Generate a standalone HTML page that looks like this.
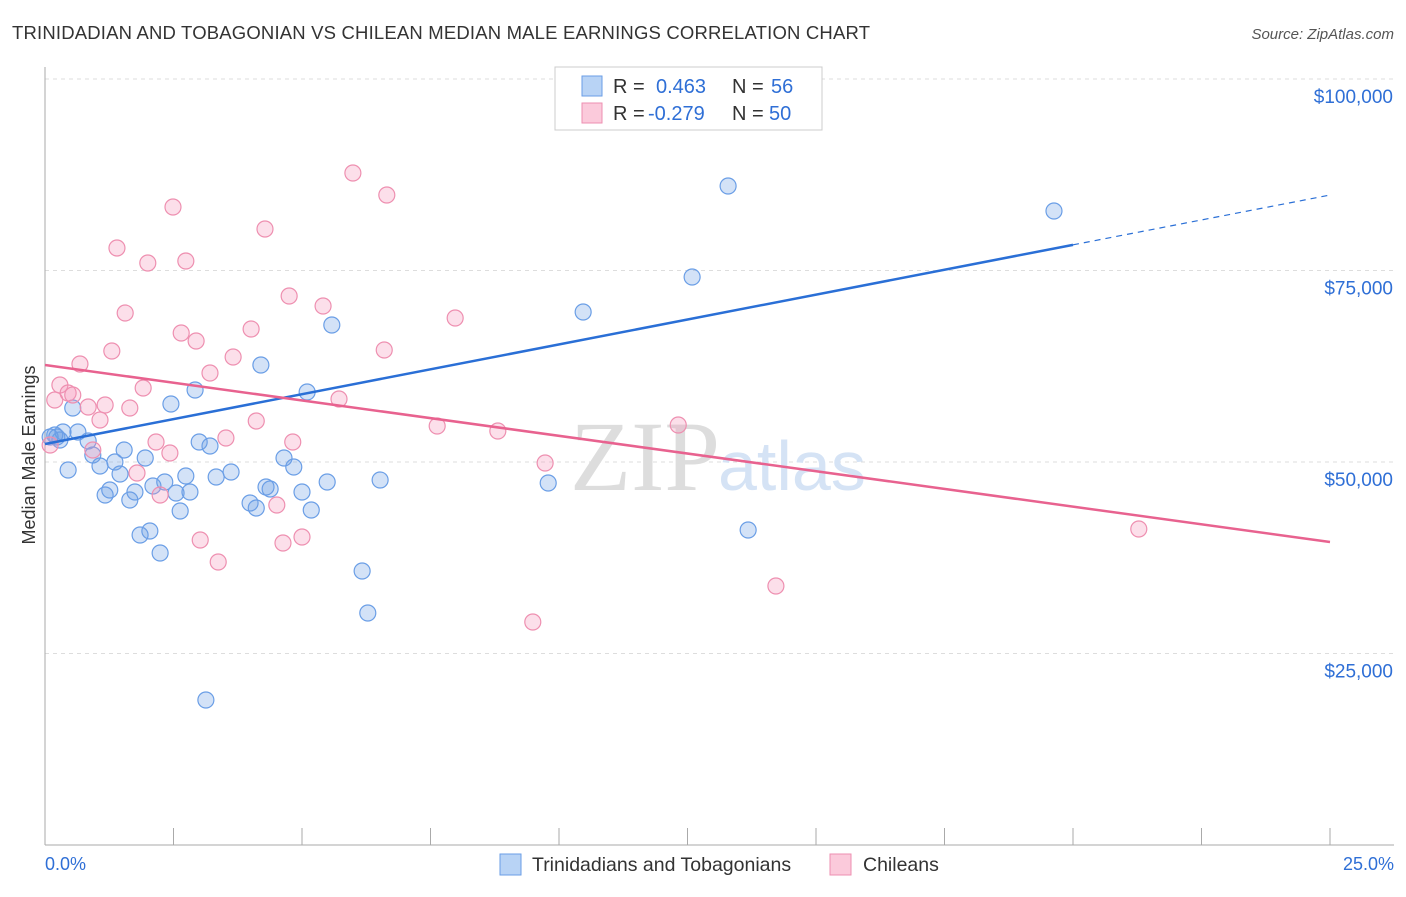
<!DOCTYPE html>
<html><head><meta charset="utf-8"><style>
body{margin:0;background:#fff;font-family:"Liberation Sans",sans-serif;}
svg text{font-family:"Liberation Sans",sans-serif;}
</style></head><body>
<svg id="c" width="1406" height="892" xmlns="http://www.w3.org/2000/svg">
<text x="12" y="39" font-size="18.5" fill="#333" textLength="858">TRINIDADIAN AND TOBAGONIAN VS CHILEAN MEDIAN MALE EARNINGS CORRELATION CHART</text>
<text x="1394" y="39" font-size="15" fill="#555" font-style="italic" text-anchor="end">Source: ZipAtlas.com</text>
<text x="35" y="455" font-size="18" fill="#333" text-anchor="middle" transform="rotate(-90 35 455)">Median Male Earnings</text>
<g id="grid"></g>
<text x="720" y="490" font-size="100" fill="#ddd" text-anchor="end" style="font-family:'Liberation Serif',serif">ZIP</text>
<text x="718" y="490" font-size="70" fill="#d5e3f5">atlas</text>
<g id="pts"></g>
<g id="lines"></g>
<g>
<rect x="555" y="67" width="267" height="63" fill="#fff" stroke="#ccc"/>
<rect x="582" y="76" width="20" height="20" fill="#b8d3f5" stroke="#6a9ee6"/>
<rect x="582" y="103" width="20" height="20" fill="#fbcadb" stroke="#ee8fb0"/>
<text x="613" y="93" font-size="20" fill="#333">R = <tspan fill="#2f6fd6" x="656">0.463</tspan><tspan fill="#333" x="732">N = </tspan><tspan fill="#2f6fd6" x="771">56</tspan></text>
<text x="613" y="120" font-size="20" fill="#333">R = <tspan fill="#2f6fd6" x="648">-0.279</tspan><tspan fill="#333" x="732">N = </tspan><tspan fill="#2f6fd6" x="769">50</tspan></text>
</g>
<g>
<rect x="500" y="854" width="21" height="21" fill="#b8d3f5" stroke="#6a9ee6"/>
<text x="532" y="871" font-size="19.5" fill="#333">Trinidadians and Tobagonians</text>
<rect x="830" y="854" width="21" height="21" fill="#fbcadb" stroke="#ee8fb0"/>
<text x="863" y="871" font-size="19.5" fill="#333">Chileans</text>
</g>
<text x="45" y="870" font-size="18" fill="#2f6fd6">0.0%</text>
<text x="1394" y="870" font-size="18" fill="#2f6fd6" text-anchor="end">25.0%</text>
</svg>
<script>
const yTicks=[25000,50000,75000,100000];
const yTickLabels=["$25,000","$50,000","$75,000","$100,000"];
const xTicks=[0,2.5,5,7.5,10,12.5,15,17.5,20,22.5,25];
const bluePx=[[50,437],[57,437],[55,435],[60,440],[63,432],[68,470],[73,408],[78,432],[88,441],[93,455],[100,466],[105,495],[110,490],[115,462],[120,474],[124,450],[130,500],[135,492],[140,535],[150,531],[145,458],[153,486],[160,553],[165,482],[171,404],[176,493],[180,511],[186,476],[190,492],[195,390],[199,442],[206,700],[210,446],[216,477],[231,472],[250,503],[256,508],[261,365],[266,487],[270,489],[284,458],[294,467],[302,492],[307,392],[311,510],[327,482],[332,325],[362,571],[368,613],[380,480],[548,483],[583,312],[692,277],[728,186],[748,530],[1054,211]];
const pinkPx=[[50,445],[55,400],[60,385],[68,393],[73,395],[80,364],[88,407],[93,450],[100,420],[105,405],[112,351],[117,248],[125,313],[130,408],[137,473],[143,388],[148,263],[156,442],[160,495],[170,453],[173,207],[181,333],[186,261],[196,341],[200,540],[210,373],[218,562],[226,438],[233,357],[251,329],[256,421],[265,229],[277,505],[283,543],[289,296],[293,442],[302,537],[323,306],[339,399],[353,173],[384,350],[387,195],[437,426],[455,318],[498,431],[533,622],[545,463],[678,425],[776,586],[1139,529]];
const blueX=bluePx.map(p=>+((p[0]-45)/1285*25).toFixed(2));
const blueY=bluePx.map(p=>Math.round((845-p[1])/191.5*25000));
const pinkX=pinkPx.map(p=>+((p[0]-45)/1285*25).toFixed(2));
const pinkY=pinkPx.map(p=>Math.round((845-p[1])/191.5*25000));
const blueTrend=[[0,52350],[20,78350],[25,84850]];
const pinkTrend=[[0,62660],[25,39550]];
const X=v=>45+v/25*1285, Y=v=>845-v/25000*191.5;
const NS="http://www.w3.org/2000/svg";
function mk(t,a,p){const e=document.createElementNS(NS,t);for(const k in a)e.setAttribute(k,a[k]);p.appendChild(e);return e;}
const gridG=document.getElementById('grid');
yTicks.forEach((t,i)=>{const l=mk('line',{x1:45,x2:1394,y1:Y(t),y2:Y(t),stroke:'#ddd','stroke-dasharray':'4,4'},gridG);

const tx=mk('text',{x:1393,y:Y(t)+24,'font-size':19,fill:'#2f6fd6','text-anchor':'end'},gridG);tx.textContent=yTickLabels[i];
});
mk('line',{x1:45,x2:45,y1:67,y2:845,stroke:'#aaa'},gridG);
mk('line',{x1:45,x2:1394,y1:845,y2:845,stroke:'#aaa'},gridG);
xTicks.forEach(t=>{const l=mk('line',{x1:X(t),x2:X(t),y1:828,y2:845,stroke:'#aaa'},gridG);
});
const pg=document.getElementById('pts');
blueX.forEach((x,i)=>{const c=mk('circle',{cx:X(x),cy:Y(blueY[i]),r:8,fill:'rgba(110,160,230,0.3)',stroke:'#6a9ee6','stroke-width':1.2},pg);
});
pinkX.forEach((x,i)=>{const c=mk('circle',{cx:X(x),cy:Y(pinkY[i]),r:8,fill:'rgba(245,150,185,0.3)',stroke:'#ee8fb0','stroke-width':1.2},pg);
});
const lg=document.getElementById('lines');
const b1=mk('line',{x1:X(blueTrend[0][0]),y1:Y(blueTrend[0][1]),x2:X(blueTrend[1][0]),y2:Y(blueTrend[1][1]),stroke:'#2a6fd6','stroke-width':2.5},lg);

const b2=mk('line',{x1:X(blueTrend[1][0]),y1:Y(blueTrend[1][1]),x2:X(blueTrend[2][0]),y2:Y(blueTrend[2][1]),stroke:'#2a6fd6','stroke-width':1.2,'stroke-dasharray':'6,5'},lg);

const p1=mk('line',{x1:X(pinkTrend[0][0]),y1:Y(pinkTrend[0][1]),x2:X(pinkTrend[1][0]),y2:Y(pinkTrend[1][1]),stroke:'#e8628f','stroke-width':2.5},lg);

</script>
</body></html>
